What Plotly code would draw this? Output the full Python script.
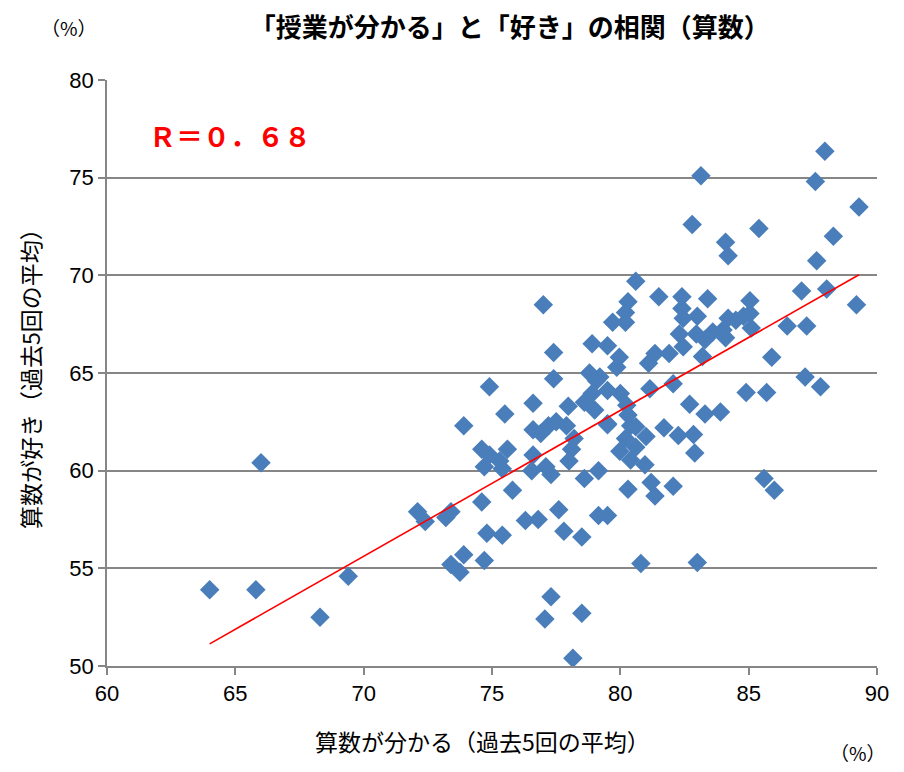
import numpy as np
import plotly.graph_objects as go

# 算数が分かる（過去5回の平均） / 算数が好き（過去5回の平均）, in %
understand = [
    64.0, 65.8, 66.0, 68.3, 69.4,
    72.1, 72.4, 73.2, 73.4, 73.4, 73.9, 73.75, 73.9,
    74.9, 74.6, 74.9, 74.7, 74.6, 74.8, 74.7, 75.3, 75.4, 75.6, 75.5, 75.8, 75.4,
    76.6, 76.6, 76.9, 77.2, 77.5, 77.9, 78.2, 78.1, 78.0, 76.6, 76.55, 77.1, 77.3, 78.6, 79.15,
    76.3, 76.8, 77.6, 77.8, 78.5, 79.15, 79.5,
    77.3, 77.06, 78.5, 78.15, 80.8, 83.0,
    77.0, 77.4, 77.4, 77.97, 78.9, 79.5, 79.96, 79.86, 78.8, 79.2, 78.9, 78.6, 79.5, 80.0,
    79.0, 79.5, 80.25, 80.3, 80.4, 81.15, 82.06, 79.07,
    81.1, 81.35, 81.9, 82.45, 83.2, 82.3, 82.96, 83.3, 84.1, 83.6, 84.0, 85.1, 86.5, 87.26,
    84.2, 84.5, 84.8, 85.05, 85.05, 83.4, 82.4, 81.5, 80.6, 80.3, 80.2, 80.2, 79.7, 82.45,
    83.0, 82.4,
    87.06, 88.04, 89.2, 87.65, 84.2, 84.1, 82.8, 85.4, 88.3, 89.3, 87.6, 83.14, 87.97,
    85.9, 87.2, 87.8, 84.9, 85.7, 82.7, 83.3, 83.9,
    80.6, 81.7, 82.26, 82.85, 81.0, 80.6, 82.9, 80.4, 80.96, 79.98, 81.2, 82.06, 81.35, 80.3,
    85.6, 86.0, 80.2, 79.5,
]
like = [
    53.9, 53.9, 60.4, 52.5, 54.6,
    57.9, 57.4, 57.6, 57.9, 55.2, 55.7, 54.8, 62.3,
    64.3, 61.1, 60.8, 60.2, 58.4, 56.8, 55.4, 60.5, 60.1, 61.1, 62.9, 59.0, 56.7,
    63.45, 62.1, 61.9, 62.3, 62.5, 62.3, 61.65, 61.1, 60.5, 60.8, 60.0, 60.2, 59.8, 59.6, 60.0,
    57.45, 57.5, 58.0, 56.9, 56.6, 57.7, 57.7,
    53.55, 52.4, 52.7, 50.4, 55.25, 55.3,
    68.5, 66.05, 64.7, 63.3, 66.5, 66.4, 65.8, 65.3, 65.0, 64.8, 63.95, 63.5, 64.1, 63.95,
    63.1, 62.4, 63.35, 62.85, 62.3, 64.2, 64.45, 64.6,
    65.5, 66.0, 66.0, 66.35, 65.85, 67.0, 67.0, 66.7, 66.8, 67.1, 67.2, 67.3, 67.4, 67.4,
    67.8, 67.7, 67.9, 68.05, 68.7, 68.8, 68.9, 68.9, 69.7, 68.65, 68.1, 67.6, 67.6, 67.8,
    67.9, 68.3,
    69.2, 69.3, 68.5, 70.75, 71.0, 71.7, 72.6, 72.4, 72.0, 73.5, 74.8, 75.1, 76.35,
    65.8, 64.8, 64.3, 64.0, 64.0, 63.4, 62.9, 63.0,
    62.25, 62.2, 61.8, 61.85, 61.75, 61.2, 60.9, 60.55, 60.3, 61.0, 59.4, 59.2, 58.7, 59.05,
    59.6, 59.0, 61.65, 62.35,
]

x_ticks = [60, 65, 70, 75, 80, 85, 90]
y_ticks = [50, 55, 60, 65, 70, 75, 80]

title_text = "「授業が分かる」と「好き」の相関（算数）"
x_title = "算数が分かる（過去5回の平均）"
y_title = "算数が好き（過去5回の平均）"
r_label = "Ｒ＝０．６８"
unit_label = "（%）"

# least-squares trend line across the data's x range
x_arr = np.array(understand)
y_arr = np.array(like)
slope, intercept = np.polyfit(x_arr, y_arr, 1)
trend_x = np.array([x_arr.min(), x_arr.max()])
trend_y = slope * trend_x + intercept

JP = "Noto Sans CJK JP"
GRID = "#868686"

fig = go.Figure()
fig.add_trace(go.Scatter(
    x=understand, y=like, mode="markers",
    marker=dict(symbol="diamond", size=15, color="#4A7EBB", line=dict(width=0)),
    hoverinfo="x+y", showlegend=False,
))
fig.add_trace(go.Scatter(
    x=trend_x, y=trend_y, mode="lines",
    line=dict(color="#FF0000", width=1.6),
    hoverinfo="skip", showlegend=False,
))

fig.update_layout(
    width=904, height=772,
    margin=dict(l=107, r=27, t=80, b=106),
    paper_bgcolor="white", plot_bgcolor="white",
    font=dict(family="Liberation Sans, Arial, sans-serif", color="#000000"),
    title=dict(
        text=f"<b>{title_text}</b>",
        font=dict(family=JP, size=26, color="#000000"),
        x=0.564, xanchor="center", y=1 - 28 / 772, yanchor="middle",
    ),
    xaxis=dict(
        range=[60, 90], tickvals=x_ticks, ticktext=[str(v) for v in x_ticks],
        showgrid=False, zeroline=False,
        showline=True, linecolor=GRID, linewidth=1.5,
        ticks="outside", ticklen=7, tickcolor=GRID, tickwidth=1.5,
        tickfont=dict(size=22, color="#000000"),
    ),
    yaxis=dict(
        range=[50, 80], tickvals=y_ticks, ticktext=[str(v) for v in y_ticks],
        showgrid=True, gridcolor=GRID, gridwidth=1.5, zeroline=False,
        showline=True, linecolor=GRID, linewidth=1.5,
        ticks="outside", ticklen=7, tickcolor=GRID, tickwidth=1.5,
        tickfont=dict(size=22, color="#000000"),
    ),
    annotations=[
        dict(text=x_title, xref="paper", yref="paper", x=0.488, y=-0.128,
             xanchor="center", yanchor="middle", showarrow=False,
             font=dict(family=JP, size=23, color="#000000")),
        dict(text=y_title, xref="paper", yref="paper", x=-0.1, y=0.5,
             xanchor="center", yanchor="middle", showarrow=False, textangle=-90,
             font=dict(family=JP, size=23, color="#000000")),
        dict(text=unit_label, xref="paper", yref="paper", x=-0.05, y=1.089,
             xanchor="center", yanchor="middle", showarrow=False,
             font=dict(family=JP, size=19, color="#000000")),
        dict(text=unit_label, xref="paper", yref="paper", x=0.975, y=-0.147,
             xanchor="center", yanchor="middle", showarrow=False,
             font=dict(family=JP, size=19, color="#000000")),
        dict(text=f"<b>{r_label}</b>", xref="paper", yref="paper", x=0.052, y=0.906,
             xanchor="left", yanchor="middle", showarrow=False,
             font=dict(family=JP, size=27, color="#FF0000")),
    ],
)

fig.write_html("out.html")
